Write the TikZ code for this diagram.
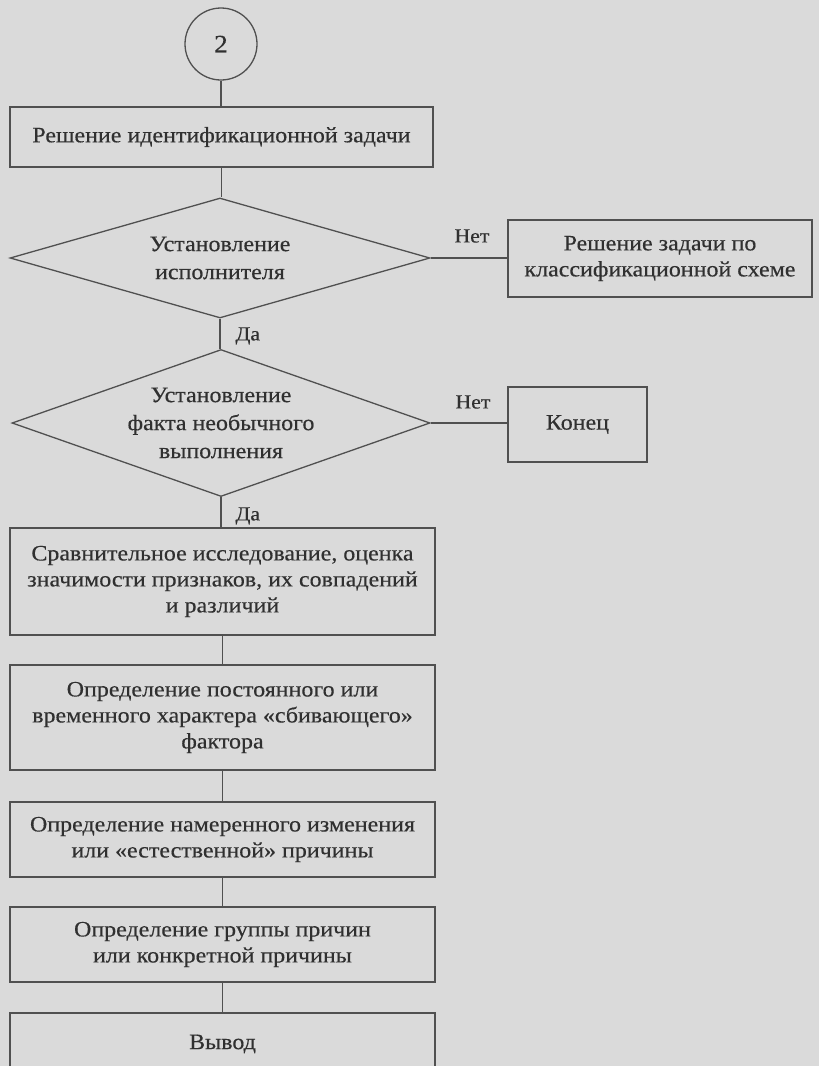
\documentclass[tikz,border=0pt]{standalone}
\usepackage{fontspec}
\setmainfont[FakeStretch=1.09,FakeBold=0.4]{Liberation Serif}
\usetikzlibrary{shapes.geometric}
\definecolor{bg}{HTML}{DADADA}
\definecolor{ink}{HTML}{303030}
\definecolor{lineink}{HTML}{505050}
\begin{document}
\begin{tikzpicture}[x=1pt,y=-1pt,
  every node/.style={text=ink,font=\fontsize{22}{26}\selectfont},
  stepbox/.style={draw=lineink,line width=1.3pt,rectangle,align=center,inner sep=0pt},
  decision/.style={draw=lineink,line width=1.3pt,diamond,align=center,inner sep=0pt,font=\fontsize{22}{28}\selectfont},
  conn/.style={draw=lineink,line width=1.3pt},
  lbl/.style={font=\fontsize{20}{22}\selectfont}]
\fill[bg] (0,0) rectangle (819,1066);
\useasboundingbox (0,0) rectangle (819,1066);
\node[draw=lineink,line width=1.3pt,circle,minimum size=72pt,inner sep=0pt,font=\fontsize{25}{26}\selectfont] (c2) at (221,44) {2};
\node[stepbox,minimum width=423pt,minimum height=60pt] (b1) at (221.5,137) {Решение идентификационной задачи};
\node[decision,aspect=3.5,minimum width=420pt,minimum height=120pt] (d1) at (220,258) {Установление\\исполнителя};
\node[stepbox,minimum width=304pt,minimum height=77pt] (r1) at (660,258.5) {Решение задачи по\\классификационной схеме};
\node[decision,aspect=3,minimum width=418pt,minimum height=147pt] (d2) at (221,423) {Установление\\факта необычного\\выполнения};
\node[stepbox,minimum width=139pt,minimum height=75pt] (kon) at (577.5,424.5) {Конец};
\node[stepbox,minimum width=425pt,minimum height=107pt] (b3) at (222.5,581.5) {Сравнительное исследование, оценка\\значимости признаков, их совпадений\\и различий};
\node[stepbox,minimum width=425pt,minimum height=105pt] (b4) at (222.5,717.5) {Определение постоянного или\\временного характера «сбивающего»\\фактора};
\node[stepbox,minimum width=425pt,minimum height=75pt] (b5) at (222.5,839.5) {Определение намеренного изменения\\или «естественной» причины};
\node[stepbox,minimum width=425pt,minimum height=75pt] (b6) at (222.5,944.5) {Определение группы причин\\или конкретной причины};
\node[stepbox,minimum width=425pt,minimum height=62pt] (b7) at (222.5,1044) {Вывод};
\draw[conn] (c2.south) -- (c2.south |- b1.north);
\draw[conn] (b1.south) -- (b1.south |- d1.north);
\draw[conn] (d1.south) -- (d1.south |- d2.north);
\draw[conn] (d2.south) -- (d2.south |- b3.north);
\draw[conn] (b3.south) -- (b4.north);
\draw[conn] (b4.south) -- (b5.north);
\draw[conn] (b5.south) -- (b6.north);
\draw[conn] (b6.south) -- (b7.north);
\draw[conn] (d1.east) -- (d1.east -| r1.west);
\draw[conn] (d2.east) -- (d2.east -| kon.west);
\node[lbl,anchor=west] (da1) at (232,336) {Да};
\node[lbl,anchor=west] (da2) at (232,516) {Да};
\node[lbl] (net1) at (472,236) {Нет};
\node[lbl] (net2) at (473,402) {Нет};
\end{tikzpicture}
\end{document}
